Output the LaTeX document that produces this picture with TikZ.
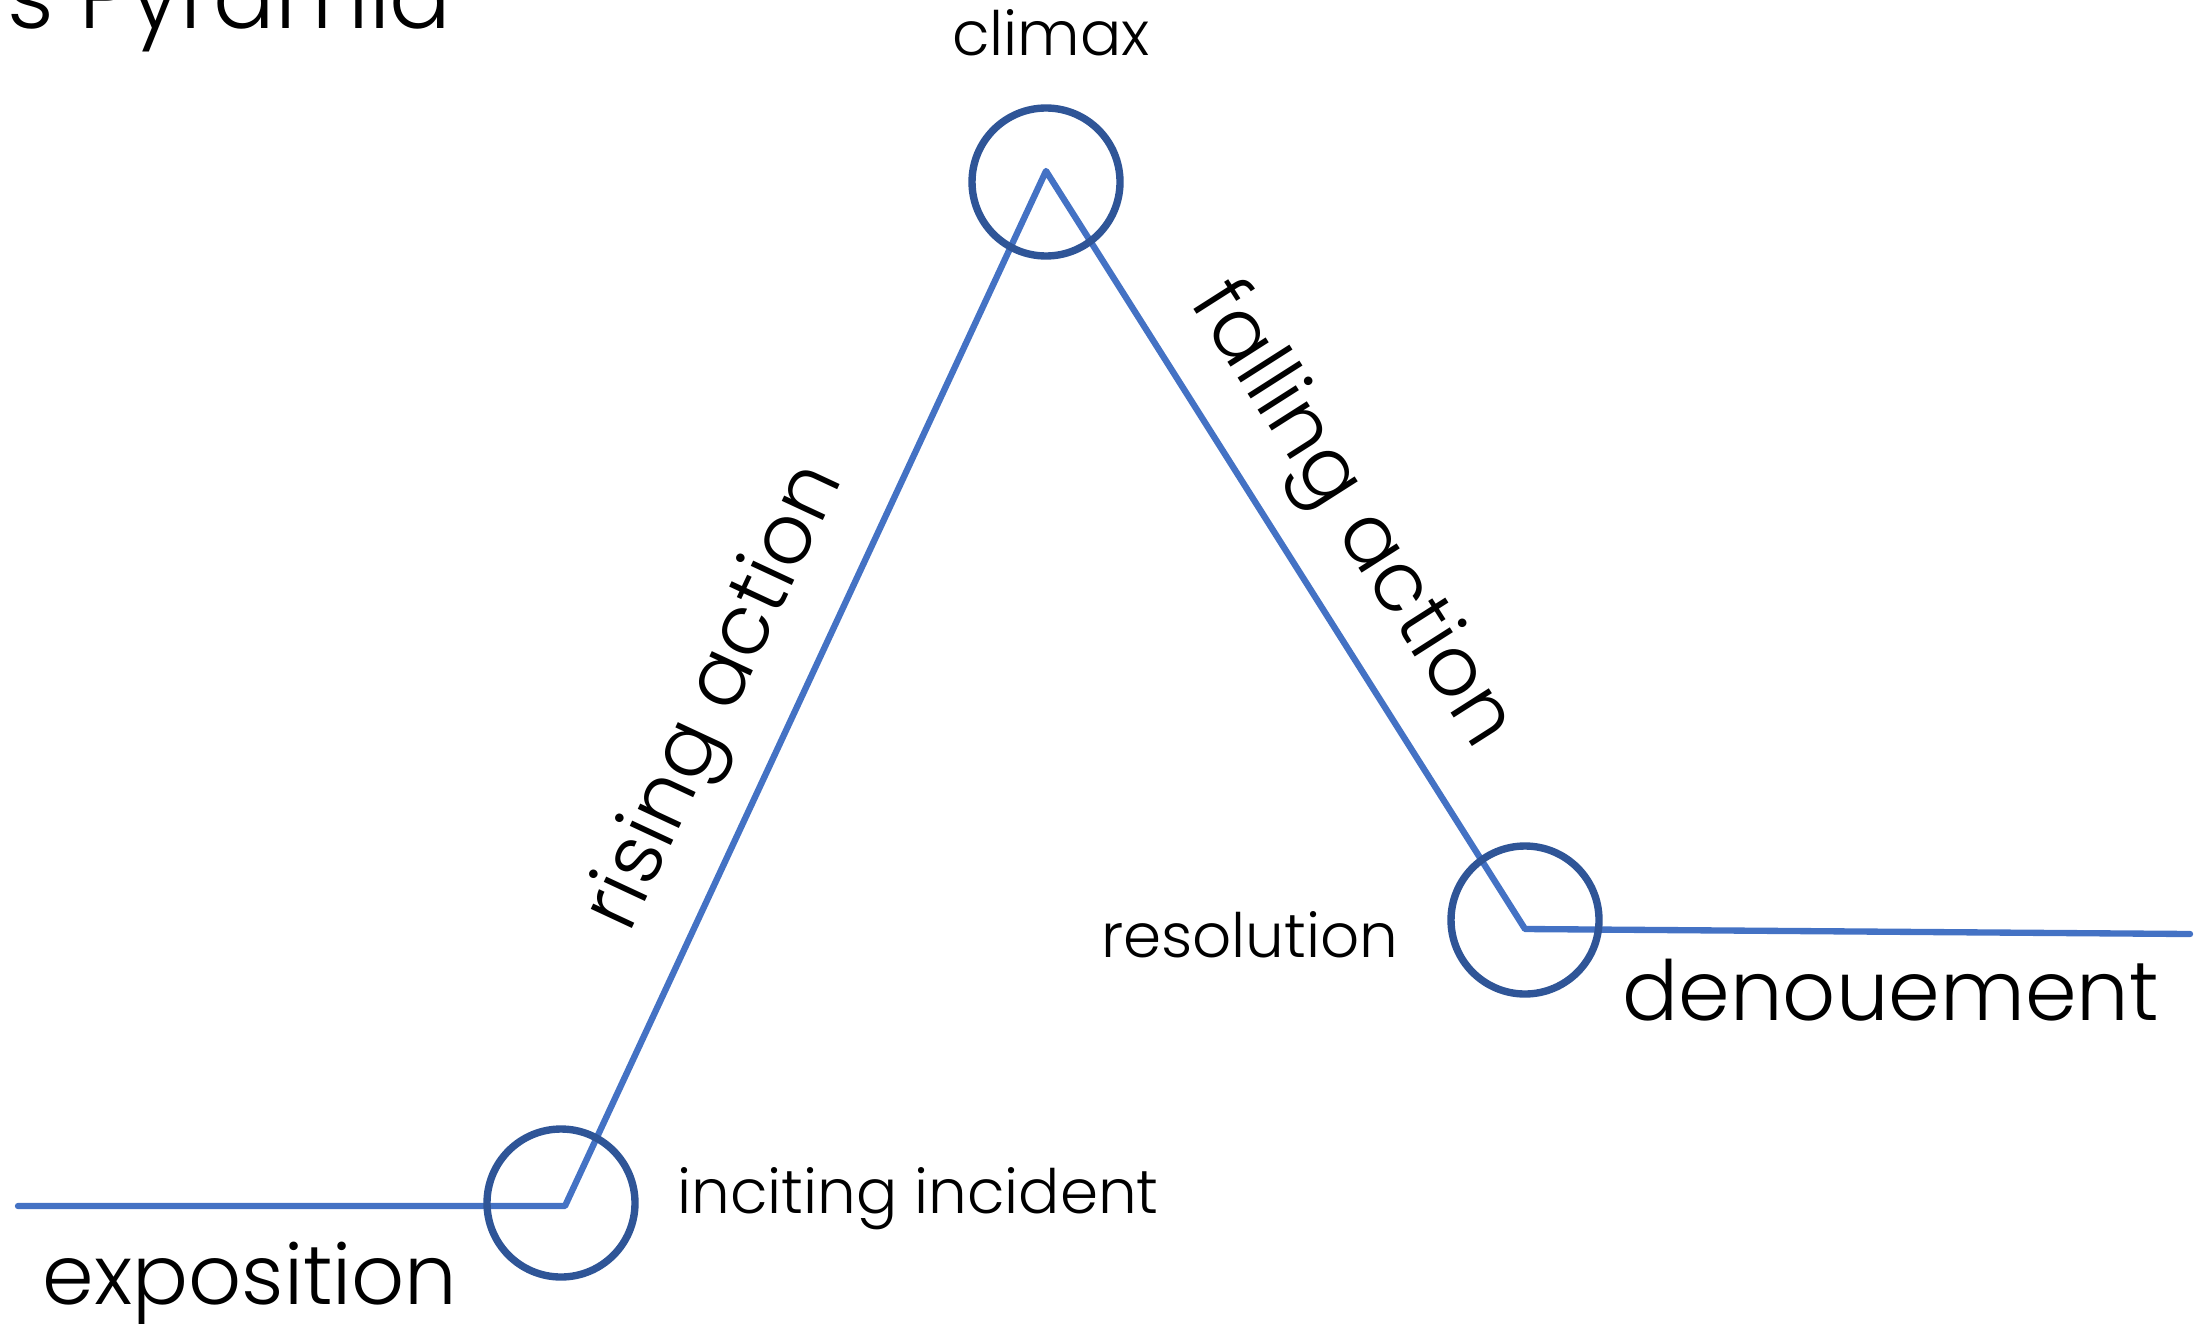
\documentclass[tikz,border=0pt]{standalone}
\usepackage{fontspec}
\setmainfont{Poppins}[UprightFont=* Light]
\usepackage{tikz}
\usetikzlibrary{positioning}
\definecolor{lineblue}{HTML}{4472C4}
\definecolor{ringblue}{HTML}{2F5597}
\tikzstyle{plotline} = [draw=lineblue, line width=1.8pt, line join=round, line cap=round]
\tikzstyle{markring} = [circle, draw=ringblue, line width=2.1pt, minimum size=148*0.01cm, inner sep=0pt]
\tikzstyle{bigtext} = [font=\fontsize{23.6}{28}\selectfont, inner sep=0pt]
\tikzstyle{smalltext} = [font=\fontsize{17.4}{21}\selectfont, inner sep=0pt]

\begin{document}
\begin{tikzpicture}[x=0.01cm, y=0.01cm]
    \useasboundingbox (0,0) rectangle (2198,1323);

    % turning points of the plot line
    \coordinate (start) at (18,117);
    \coordinate (incite) at (565,117);
    \coordinate (peak) at (1046,1152);
    \coordinate (resolve) at (1525,394);
    \coordinate (finish) at (2190,389);

    \draw [plotline] (start) -- (incite) -- (peak) -- (resolve) -- (finish);

    % rings round the turning points
    \node (ring1) [markring] at (561,120) {};
    \node (ring2) [markring] at (1046,1141) {};
    \node (ring3) [markring] at (1525,403) {};

    % labels
    \node (title) [bigtext, font=\fontsize{26}{30}\selectfont, anchor=base west] at (7,1294) {s Pyramid};
    \node (climax) [smalltext, anchor=base] at (1051,1267) {climax};
    \node (inciting) [smalltext, anchor=base west] at (677,110) {inciting incident};
    \node (resolution) [smalltext, anchor=base east] at (1399,366) {resolution};
    \node (exposition) [bigtext, anchor=base west] at (42,19) {exposition};
    \node (denouement) [bigtext, anchor=base west] at (1622,303) {denouement};
    \node (rising) [bigtext, rotate=65] at (718,625) {rising action};
    \node (falling) [bigtext, rotate=-57.5] at (1350,807) {falling action};
\end{tikzpicture}
\end{document}
